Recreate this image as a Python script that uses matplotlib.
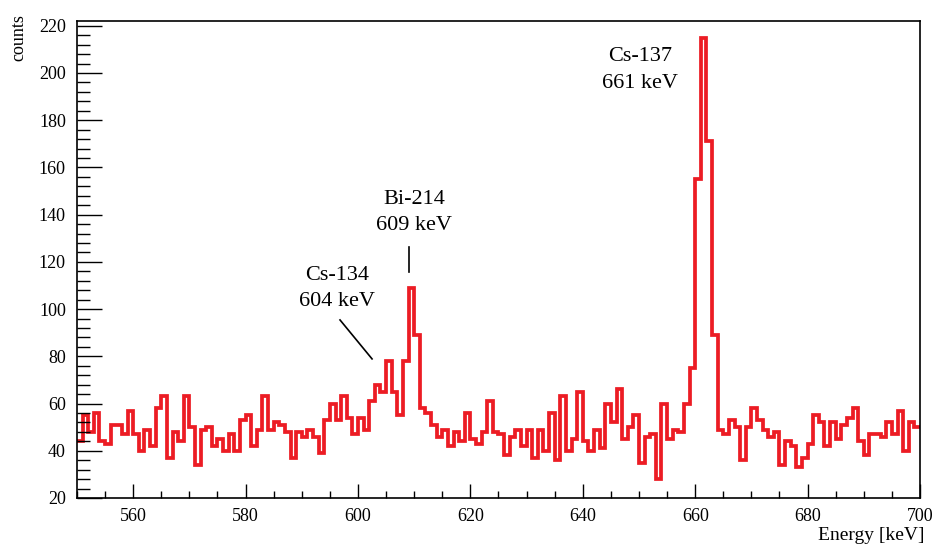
import numpy as np
import matplotlib
matplotlib.use("Agg")
import matplotlib.pyplot as plt
from matplotlib.ticker import MultipleLocator

# gamma spectrum, 1 keV bins from 550 to 700 keV
bin_edges = np.arange(550, 701, 1)
counts = [
    44, 55, 48, 56, 44, 43, 51, 51, 47, 57,   # 550-559
    47, 40, 49, 42, 58, 63, 37, 48, 44, 63,   # 560-569
    50, 34, 49, 50, 42, 45, 40, 47, 40, 53,   # 570-579
    55, 42, 49, 63, 49, 52, 51, 48, 37, 48,   # 580-589
    46, 49, 46, 39, 53, 60, 53, 63, 54, 47,   # 590-599
    54, 49, 61, 68, 65, 78, 65, 55, 78, 109,  # 600-609
    89, 58, 56, 51, 46, 49, 42, 48, 44, 56,   # 610-619
    45, 43, 48, 61, 48, 47, 38, 46, 49, 42,   # 620-629
    49, 37, 49, 40, 56, 36, 63, 40, 45, 65,   # 630-639
    44, 40, 49, 41, 60, 52, 66, 45, 50, 55,   # 640-649
    35, 46, 47, 28, 60, 45, 49, 48, 60, 75,   # 650-659
    155, 215, 171, 89, 49, 47, 53, 50, 36, 50,  # 660-669
    58, 53, 49, 46, 48, 34, 44, 42, 33, 37,   # 670-679
    43, 55, 52, 42, 52, 45, 51, 54, 58, 44,   # 680-689
    38, 47, 47, 46, 52, 47, 57, 40, 52, 50,   # 690-699
]

# peak labels: (line 1, line 2, x, y of line 1, y of line 2)
peak_labels = [
    ("Cs-137", "661 keV", 650.2, 206.9, 195.4),
    ("Bi-214", "609 keV", 610.0, 146.3, 135.3),
    ("Cs-134", "604 keV", 596.3, 114.1, 103.1),
]

plt.rcParams['font.family'] = ['Liberation Serif', 'DejaVu Serif']

fig = plt.figure(figsize=(9.32, 5.46), dpi=100)
ax = fig.add_axes([77 / 932, 1 - 498 / 546, 843 / 932, 477 / 546])

ax.stairs(counts, bin_edges, baseline=None, color='#ec1c24', linewidth=2.7)

ax.set_xlim(550, 700)
ax.set_ylim(20, 222)

ax.xaxis.set_major_locator(MultipleLocator(20))
ax.xaxis.set_minor_locator(MultipleLocator(5))
ax.yaxis.set_major_locator(MultipleLocator(20))
ax.yaxis.set_minor_locator(MultipleLocator(4))
ax.tick_params(axis='x', which='major', direction='in', length=10, width=1,
               labelsize=13, pad=7, top=False)
ax.tick_params(axis='x', which='minor', direction='in', length=5, width=1, top=False)
ax.tick_params(axis='y', which='major', direction='in', length=18, width=1,
               labelsize=13, pad=8, right=False)
ax.tick_params(axis='y', which='minor', direction='in', length=9, width=1, right=False)
for sp in ax.spines.values():
    sp.set_linewidth(1.2)

fig.text(19 / 932, 1 - 14 / 546, 'counts', rotation=90, ha='center', va='top', fontsize=13)
fig.text(925 / 932, 1 - 536 / 546, 'Energy [keV]', ha='right', va='center', fontsize=14)

for l1, l2, x, y1, y2 in peak_labels:
    ax.text(x, y1, l1, ha='center', va='center', fontsize=16)
    ax.text(x, y2, l2, ha='center', va='center', fontsize=16)

# pointers
ax.plot([596.8, 602.5], [95.4, 78.9], color='black', linewidth=1.2)
ax.plot([609.1, 609.1], [126.4, 115.8], color='black', linewidth=1.2)

fig.savefig('out.png', dpi=100)
